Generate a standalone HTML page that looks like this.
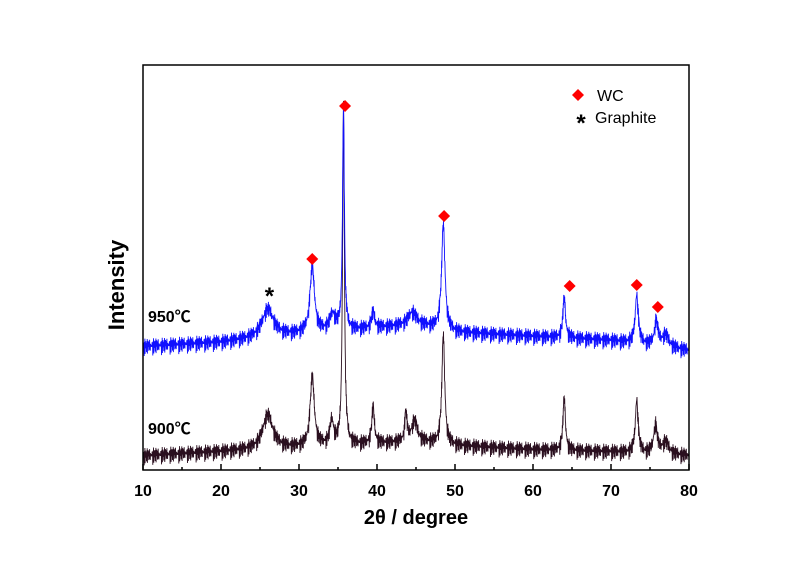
<!DOCTYPE html>
<html><head><meta charset="utf-8"><style>
body{margin:0;background:#fff;}
svg text{font-family:"Liberation Sans","Noto Sans CJK SC",sans-serif;}
</style></head><body>
<svg id="c" width="800" height="564"></svg>
<script>
const xTicks=[10,20,30,40,50,60,70,80];
const blueBase=[[10,30.5],[20,31.5],[30,33.5],[40,35],[45,36],[50,34],[60,33],[70,32],[80,29.5]];
const bluePeaks=[[26,7,0.9],[31.7,16,0.35],[34.3,4,0.45],[35.7,55,0.14],[39.5,4,0.25],[44.5,3,0.6],[48.5,26,0.26],[64,10,0.2],[73.3,12,0.24],[75.8,6,0.28],[77,3,0.5]];
const blackBase=[[10,3.5],[20,4.5],[30,5.5],[40,6.5],[45,7],[50,6],[60,5],[70,4.5],[80,3.5]];
const blackPeaks=[[26,8.5,0.8],[31.7,17,0.32],[34.2,6,0.28],[35.7,84,0.14],[39.5,9,0.2],[43.7,7,0.17],[44.8,5,0.45],[48.5,27,0.22],[64,13,0.19],[73.3,13,0.22],[75.7,7,0.28],[77,3,0.5]];
const jitter=[0.6,-0.9,1.4,-0.3,0.2,-1.5,0.9,-0.6,1.1,-1.2,0.4,-0.1,1.6,-0.8,0.3,-1.3,0.7,-0.4,1.2,-1.0,0.1,-0.7,1.5,-0.2,0.8,-1.4,0.5,-0.5,1.0,-1.1,0.0,-0.6,1.3,-0.9,0.6,-0.3,0.9];
const wcMarks=[[31.7,259],[35.9,106],[48.6,216],[64.7,286],[73.3,285],[76,307]];
const L=143,R=689,T=65,B=470;
const sx=v=>L+(v-10)/70*(R-L);
const sy=v=>B-v/100*(B-T);
const svg=document.getElementById('c');
const NS='http://www.w3.org/2000/svg';
function mk(t,a,p){const e=document.createElementNS(NS,t);for(const k in a)e.setAttribute(k,a[k]);(p||svg).appendChild(e);return e;}
function base(arr,x){for(let i=0;i<arr.length-1;i++){if(x<=arr[i+1][0]){const f=(x-arr[i][0])/(arr[i+1][0]-arr[i][0]);return arr[i][1]+f*(arr[i+1][1]-arr[i][1]);}}return arr[arr.length-1][1];}
function series(b,pk,col,name){let d='';let i=0;for(let x=10;x<=80;x+=0.03){let y=base(b,x);for(const p of pk){const u=(x-p[0])/p[2];y+=p[1]/(1+u*u);}y+=jitter[i%jitter.length]*1.0+jitter[(i*7+3)%jitter.length]*0.6+jitter[(i*13+5)%jitter.length]*0.4;d+=(i?'L':'M')+sx(x).toFixed(1)+','+sy(y).toFixed(1);i++;}
const e=mk('path',{d:d,fill:'none',stroke:col,'stroke-width':0.9});

}
series(blackBase,blackPeaks,'#2a0f1f','series-900c');
series(blueBase,bluePeaks,'#1010ff','series-950c');
const fr=mk('rect',{x:L,y:T,width:R-L,height:B-T,fill:'none',stroke:'#000','stroke-width':1.5});


for(let v=10;v<=80;v+=5){mk('line',{x1:sx(v),x2:sx(v),y1:B,y2:B-(v%10?3:6),stroke:'#000','stroke-width':1.5});}
for(const v of xTicks){const t=mk('text',{x:sx(v),y:B+26,'text-anchor':'middle','font-size':16,'font-weight':'bold'});t.textContent=v;

}
for(const m of wcMarks){const x=sx(m[0]),y=m[1];const e=mk('polygon',{points:`${x},${y-6} ${x+6},${y} ${x},${y+6} ${x-6},${y}`,fill:'#f00'});

}
function txt(s,a,name){const t=mk('text',a);t.textContent=s;return t;}
txt('*',{x:sx(26.2),y:304,'text-anchor':'middle','font-size':24,'font-weight':'bold'},'graphite-marker');
const ld=mk('polygon',{points:'578,89 584,95 578,101 572,95',fill:'#f00'});


txt('WC',{x:597,y:101,'font-size':16},'legend-wc-label');
txt('*',{x:581,y:131,'text-anchor':'middle','font-size':24,'font-weight':'bold'},'legend-graphite-symbol');
txt('Graphite',{x:595,y:123,'font-size':16},'legend-graphite-label');
txt('950℃',{x:148,y:322,'font-size':16,'font-weight':'bold'},'label-950c');
txt('900℃',{x:148,y:434,'font-size':16,'font-weight':'bold'},'label-900c');
txt('2θ / degree',{x:416,y:524,'text-anchor':'middle','font-size':20,'font-weight':'bold'},'x-axis-title');
txt('Intensity',{x:0,y:0,'text-anchor':'middle','font-size':22,'font-weight':'bold',transform:'translate(124,285) rotate(-90)'},'y-axis-title');
</script>
</body></html>
